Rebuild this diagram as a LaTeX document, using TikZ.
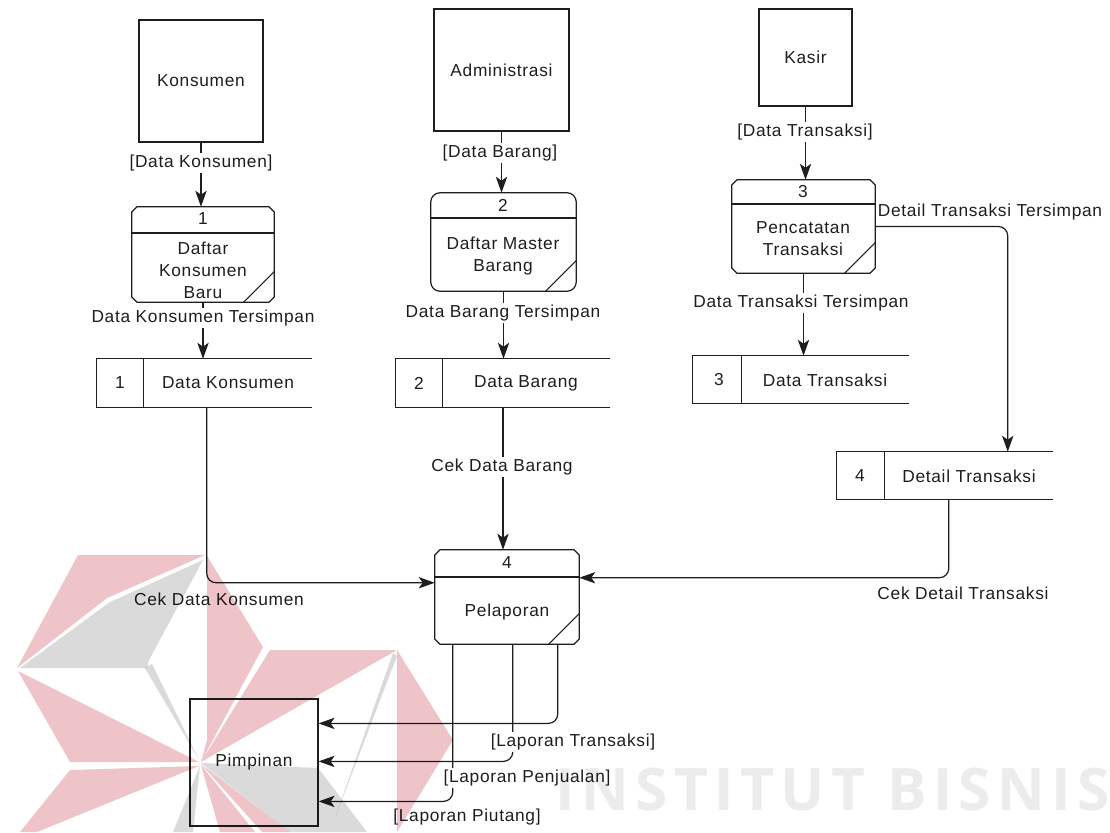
\documentclass[tikz,border=0pt]{standalone}
\usepackage{fontspec}
\setmainfont{Liberation Sans}
\newfontfamily\dfdfont{Liberation Sans}[LetterSpace=4]
\newfontfamily\wmfont{Open Sans}[LetterSpace=11]
\usetikzlibrary{arrows.meta,fit,calc}

\definecolor{wmpink}{RGB}{238,196,201}
\definecolor{wmgrey}{RGB}{218,218,218}
\definecolor{wmtext}{RGB}{236,236,236}
\definecolor{ink}{RGB}{30,30,30}

\tikzset{
  every node/.style={font=\dfdfont\fontsize{13}{16.5}\selectfont, text=ink, inner sep=1pt},
  frame/.style={inner sep=0pt, draw=ink, line width=0.9pt},
  area/.style={inner sep=0pt},
  edge/.style={line width=0.9pt, draw=ink},
  flow/.style={edge, rounded corners=7pt,
    -{Stealth[length=12pt,width=8.5pt,inset=3pt]}},
  lbl/.style={fill=white, inner sep=1.5pt},
}

% process outline with cut corners, header rule and corner mark
\newcommand\chamferproc[2]{%
  \draw[edge] ([xshift=4pt]#1.north west) -- ([xshift=-4pt]#1.north east)
    -- ([yshift=-4pt]#1.north east) -- ([yshift=4pt]#1.south east)
    -- ([xshift=-4pt]#1.south east) -- ([xshift=4pt]#1.south west)
    -- ([yshift=4pt]#1.south west) -- ([yshift=-4pt]#1.north west) -- cycle;
  \draw[edge] (#1.west |- 0,#2) -- (#1.east |- 0,#2);
  \draw[edge] ([xshift=-23pt]#1.south east) -- ([yshift=23pt]#1.south east);
}
% process outline with rounded corners
\newcommand\roundproc[2]{%
  \draw[edge, rounded corners=7pt] (#1.north west) rectangle (#1.south east);
  \draw[edge] (#1.west |- 0,#2) -- (#1.east |- 0,#2);
  \draw[edge] ([xshift=-23pt]#1.south east) -- ([yshift=23pt]#1.south east);
}
% data store: open on the right, id cell on the left
\newcommand\datastore[2]{%
  \draw[edge] (#1.north east) -- (#1.north west) -- (#1.south west) -- (#1.south east);
  \draw[edge] ($(#1.north west)+(#2,0)$) -- ($(#1.south west)+(#2,0)$);
}

\begin{document}
\begin{tikzpicture}[x=0.75pt,y=-0.75pt]
\useasboundingbox[fill=white] (0,0) rectangle (1110,832);

% external entities
\node[frame, fit={(139,20) (263,142)}] (ekon) {};
\node (ekontxt) at (ekon.center) {Konsumen};
\node[frame, fit={(434,9) (569,131)}] (eadm) {};
\node (eadmtxt) at (eadm.center) {Administrasi};
\node[frame, fit={(759,9) (852,106)}] (ekas) {};
\node (ekastxt) at (ekas.center) {Kasir};
\node[frame, fit={(190,699) (318,826)}] (epim) {};
\node (epimtxt) at (epim.center) {Pimpinan};

% processes
\node[area, fit={(132,207) (274,302)}] (p1) {};
\chamferproc{p1}{233}
\node (p1num) at (203,219) {1};
\node[align=center] (p1txt) at (203,270) {Daftar\\Konsumen\\Baru};

\node[area, fit={(431,193) (576,291)}] (p2) {};
\roundproc{p2}{218}
\node (p2num) at (503,205) {2};
\node[align=center] (p2txt) at (503,256) {Daftar Master\\Barang};

\node[area, fit={(732,180) (875,273)}] (p3) {};
\chamferproc{p3}{204}
\node (p3num) at (803,192) {3};
\node[align=center] (p3txt) at (803,239) {Pencatatan\\Transaksi};

\node[area, fit={(435,550) (579,644)}] (p4) {};
\chamferproc{p4}{577}
\node (p4num) at (507,563) {4};
\node (p4txt) at (507,612) {Pelaporan};

% data stores
\node[area, fit={(97,359) (312,407)}] (s1) {};
\datastore{s1}{47}
\node (s1id) at (120,383) {1};
\node (s1txt) at (228,383) {Data Konsumen};

\node[area, fit={(396,359) (610,407)}] (s2) {};
\datastore{s2}{47}
\node (s2id) at (419,383) {2};
\node (s2txt) at (526,383) {Data Barang};

\node[area, fit={(693,356) (909,403)}] (s3) {};
\datastore{s3}{49}
\node (s3id) at (719,380) {3};
\node (s3txt) at (825,380) {Data Transaksi};

\node[area, fit={(837,452) (1053,499)}] (s4) {};
\datastore{s4}{48}
\node (s4id) at (860,476) {4};
\node (s4txt) at (969,476) {Detail Transaksi};

% data flows
\draw[flow] (ekon.south) -- (ekon.south |- p1.north);
\draw[flow] (p1.south) -- (p1.south |- s1.north);
\draw[flow] (eadm.south) -- (eadm.south |- p2.north);
\draw[flow] (p2.south) -- (p2.south |- s2.north);
\draw[flow] (ekas.south) -- (ekas.south |- p3.north);
\draw[flow] (p3.south) -- (p3.south |- s3.north);
\draw[flow] (p3.east) -| ($(s4.north west)+(171,0)$);
\draw[flow] (s2.south) -- (s2.south |- p4.north);
\draw[flow] ($(s1.south west)+(110,0)$) |- ($(p4.north west)+(0,33)$);
\draw[flow] ($(s4.south west)+(112,0)$) |- ($(p4.north east)+(0,28)$);
\draw[flow] ($(p4.south west)+(123,0)$) |- ($(epim.north east)+(0,25)$);
\draw[flow] ($(p4.south west)+(78,0)$) |- ($(epim.north east)+(0,63)$);
\draw[flow] ($(p4.south west)+(18,0)$) |- ($(epim.north east)+(0,103)$);

% flow labels
\node[lbl] (l1) at (201,163) {[Data Konsumen]};
\node[lbl] (l2) at (203,318) {Data Konsumen Tersimpan};
\node[lbl] (l3) at (500,153) {[Data Barang]};
\node[lbl] (l4) at (503,313) {Data Barang Tersimpan};
\node[lbl] (l5) at (805,132) {[Data Transaksi]};
\node[lbl] (l6) at (801,303) {Data Transaksi Tersimpan};
\node[lbl] (l7) at (990,212) {Detail Transaksi Tersimpan};
\node[lbl] (l8) at (502,467) {Cek Data Barang};
\node[lbl] (l9) at (219,599) {Cek Data Konsumen};
\node[lbl] (l10) at (963,593) {Cek Detail Transaksi};
\node[lbl] (l11) at (573,742) {[Laporan Transaksi]};
\node[lbl] (l12) at (527,778) {[Laporan Penjualan]};
\node[lbl] (l13) at (467,817) {[Laporan Piutang]};

% institute watermark, laid over the drawing
\begin{scope}[blend mode=multiply]
  \clip (0,0) rectangle (1110,832);
  \fill[wmpink] (78,555) -- (205,555) -- (107,598) -- (17,668) -- cycle;
  \fill[wmgrey] (203,560) -- (110,602) -- (20,668) -- (147,668) -- (149,660) -- cycle;
  \fill[wmgrey] (145,668) -- (152,664) -- (199,760) -- cycle;
  \fill[wmpink] (207,556) -- (263,647) -- (201,762) -- (207,740) -- cycle;
  \fill[wmpink] (18,671) -- (199,762) -- (70,762) -- cycle;
  \fill[wmpink] (70,770) -- (199,766) -- (37,832) -- (20,832) -- cycle;
  \fill[wmgrey] (200,766) -- (173,832) -- (193,832) -- cycle;
  \fill[wmpink] (201,765) -- (220,832) -- (255,832) -- cycle;
  \fill[wmpink] (270,650) -- (397,650) -- (201,762) -- cycle;
  \fill[wmgrey] (201,763) -- (318,768) -- (367,832) -- (290,832) -- cycle;
  \fill[wmpink] (201,764) -- (290,832) -- (262,832) -- cycle;
  \fill[wmpink] (397,650) -- (453,740) -- (397,832) -- cycle;
  \fill[wmgrey] (393,653) -- (397,656) -- (335,818) -- cycle;
  \node[anchor=base west, inner sep=0pt, font=\wmfont\bfseries\fontsize{44}{44}\selectfont, text=wmtext] (wm) at (555,810) {INSTITUT BISNIS};
\end{scope}
\end{tikzpicture}
\end{document}
